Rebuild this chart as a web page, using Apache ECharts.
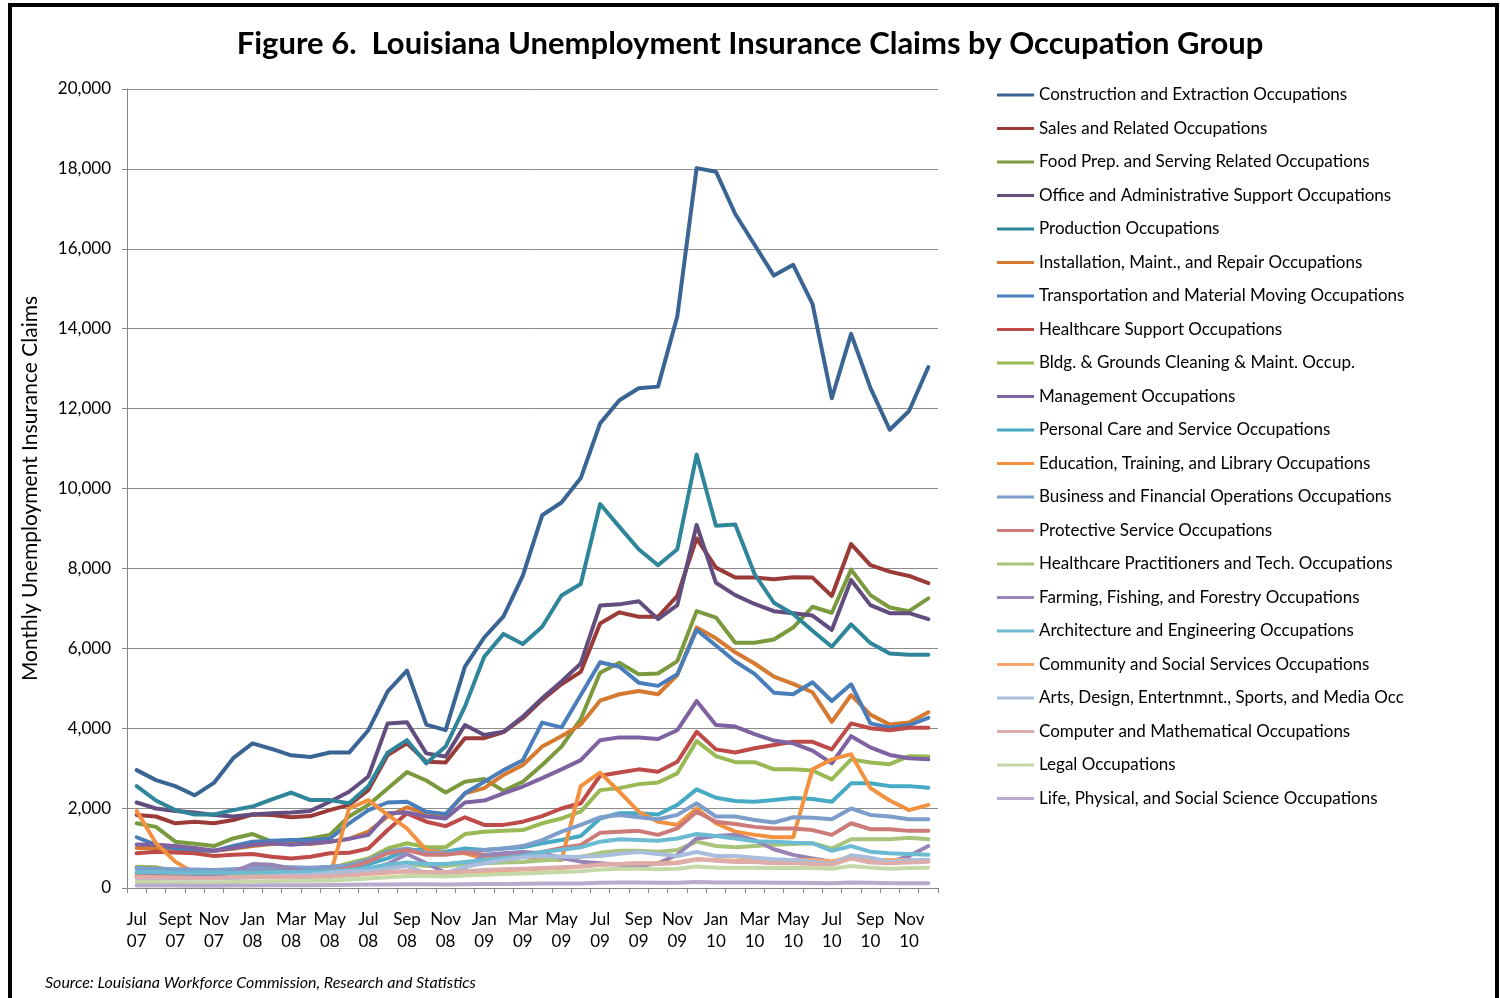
<!DOCTYPE html>
<html>
<head>
<meta charset="utf-8">
<script src="https://cdn.jsdelivr.net/npm/echarts@6/dist/echarts.min.js"></script>
<style>
html,body{margin:0;padding:0;background:#fff;}
#chart{width:1500px;height:998px;}
</style>
</head>
<body>
<div id="chart"></div>
<script>
var months = ["Jul\n07","Aug\n07","Sept\n07","Oct\n07","Nov\n07","Dec\n07",
"Jan\n08","Feb\n08","Mar\n08","Apr\n08","May\n08","Jun\n08","Jul\n08","Aug\n08","Sep\n08","Oct\n08","Nov\n08","Dec\n08",
"Jan\n09","Feb\n09","Mar\n09","Apr\n09","May\n09","Jun\n09","Jul\n09","Aug\n09","Sep\n09","Oct\n09","Nov\n09","Dec\n09",
"Jan\n10","Feb\n10","Mar\n10","Apr\n10","May\n10","Jun\n10","Jul\n10","Aug\n10","Sep\n10","Oct\n10","Nov\n10","Dec\n10"];

var construction = [2950,2700,2550,2320,2630,3250,3620,3480,3320,3280,3390,3390,3950,4920,5440,4090,3950,5540,6270,6800,7820,9330,9650,10260,11630,12210,12510,12550,14310,18020,17930,16870,16100,15330,15600,14620,12260,13870,12520,11470,11940,13040];
var sales = [1830,1790,1620,1660,1620,1700,1840,1830,1770,1800,1950,2080,2450,3330,3620,3160,3140,3750,3750,3900,4250,4710,5100,5410,6620,6900,6790,6790,7310,8750,8020,7770,7770,7730,7780,7770,7310,8610,8080,7920,7810,7630];
var foodPrep = [1620,1530,1160,1110,1050,1240,1350,1160,1180,1240,1330,1790,2080,2490,2900,2690,2390,2660,2730,2430,2660,3080,3540,4230,5390,5640,5350,5370,5680,6930,6770,6140,6140,6220,6520,7040,6890,7970,7330,7020,6930,7250];
var office = [2140,1990,1930,1890,1830,1790,1840,1870,1890,1930,2160,2410,2790,4120,4150,3370,3290,4080,3830,3910,4290,4750,5170,5620,7070,7100,7180,6730,7080,9090,7640,7330,7110,6930,6880,6820,6460,7710,7080,6880,6880,6730];
var production = [2550,2190,1950,1840,1840,1950,2040,2220,2390,2200,2200,2120,2550,3390,3700,3120,3540,4540,5790,6360,6110,6540,7320,7610,9610,9040,8480,8080,8480,10850,9070,9100,7860,7140,6860,6440,6040,6600,6130,5870,5840,5840];
var installation = [1000,1000,980,950,930,980,1050,1100,1120,1100,1160,1230,1410,1790,2020,1870,1830,2370,2500,2830,3080,3540,3800,4090,4690,4850,4930,4850,5330,6520,6250,5900,5620,5290,5110,4900,4160,4830,4340,4090,4140,4400];
var transportation = [1270,1080,990,950,930,1050,1160,1180,1200,1200,1230,1620,1950,2140,2160,1910,1850,2370,2660,2950,3200,4140,4020,4830,5650,5540,5140,5060,5350,6460,6070,5670,5360,4890,4850,5150,4680,5100,4120,4010,4080,4260];
var healthSupport = [870,910,890,870,800,830,850,780,740,780,870,880,990,1450,1870,1660,1550,1770,1580,1580,1660,1800,1990,2120,2810,2890,2970,2910,3160,3910,3470,3390,3500,3580,3660,3660,3470,4120,4000,3950,4010,4010];
var bldg = [530,520,420,300,330,450,520,500,480,480,490,620,740,990,1120,1020,1020,1350,1410,1430,1450,1620,1740,1910,2450,2500,2600,2640,2870,3680,3300,3150,3150,2970,2970,2940,2720,3220,3140,3100,3300,3290];
var management = [1090,1080,1050,1000,930,1000,1080,1120,1080,1120,1160,1230,1330,1870,1890,1790,1740,2140,2190,2370,2540,2750,2970,3200,3700,3770,3770,3730,3950,4680,4080,4040,3850,3690,3620,3440,3120,3800,3520,3330,3250,3220];
var personalCare = [480,470,450,430,420,430,450,440,430,420,450,500,600,740,950,950,910,990,950,990,1020,1120,1200,1300,1740,1870,1870,1840,2080,2470,2260,2180,2160,2200,2250,2230,2160,2620,2620,2550,2550,2510];
var education = [1930,1120,660,370,370,380,330,320,300,300,290,1990,2200,1830,1490,950,880,870,740,700,780,720,700,2550,2890,2410,1910,1660,1580,1990,1620,1410,1330,1270,1270,2970,3220,3350,2500,2190,1950,2080];
var business = [500,480,470,460,450,470,500,520,520,510,530,570,700,910,990,870,870,910,950,990,1050,1200,1410,1580,1770,1830,1770,1720,1830,2120,1790,1790,1700,1640,1770,1760,1720,1990,1830,1790,1720,1720];
var protective = [380,380,370,360,360,370,400,420,400,400,420,500,660,870,950,830,830,890,830,780,830,900,1000,1080,1380,1410,1430,1330,1490,1910,1660,1600,1530,1490,1490,1450,1330,1620,1470,1470,1430,1430];
var healthPract = [330,320,310,300,300,310,330,340,350,350,360,400,450,550,600,550,550,600,620,640,650,690,720,780,880,930,930,910,950,1160,1050,1020,1050,1080,1100,1120,990,1220,1220,1220,1260,1220];
var farming = [300,300,290,280,280,400,600,580,490,370,280,350,450,600,850,620,380,500,830,870,900,870,750,660,620,580,550,620,830,1240,1300,1330,1200,970,830,740,660,750,700,650,800,1050];
var architecture = [400,400,390,380,380,380,390,400,400,400,420,450,500,580,640,600,600,650,700,750,800,900,960,1020,1160,1220,1200,1180,1240,1350,1300,1240,1170,1160,1130,1120,930,1050,910,870,850,830];
var community = [280,270,260,250,250,260,280,290,290,290,300,320,350,380,420,380,380,400,420,440,460,480,500,540,580,600,620,620,640,720,700,680,720,700,700,700,660,780,700,700,700,700];
var arts = [250,250,240,240,240,250,270,300,320,330,380,420,420,490,550,370,370,530,620,700,770,800,780,780,800,860,900,850,800,900,800,800,760,720,700,660,600,820,760,650,700,700];
var computer = [260,260,250,250,250,260,270,280,280,280,300,320,360,400,420,400,400,420,450,470,480,500,520,540,580,600,620,600,620,720,680,650,650,620,620,600,580,740,640,620,640,660];
var legal = [150,150,140,140,140,150,160,170,180,180,190,210,240,270,300,300,290,310,330,350,360,380,400,420,460,480,480,470,480,540,510,510,510,500,500,500,480,550,510,480,500,510];
var lifeSci = [60,60,60,55,55,60,65,70,70,70,75,80,85,90,95,95,90,95,100,100,105,110,110,115,130,135,135,130,130,150,140,140,135,130,130,125,120,140,130,120,120,120];

var seriesNames = [
"Construction and Extraction Occupations",
"Sales and Related Occupations",
"Food Prep. and Serving Related Occupations",
"Office and Administrative Support Occupations",
"Production Occupations",
"Installation, Maint., and Repair Occupations",
"Transportation and Material Moving Occupations",
"Healthcare Support Occupations",
"Bldg. & Grounds Cleaning & Maint. Occup.",
"Management Occupations",
"Personal Care and Service Occupations",
"Education, Training, and Library Occupations",
"Business and Financial Operations Occupations",
"Protective Service Occupations",
"Healthcare Practitioners and Tech. Occupations",
"Farming, Fishing, and Forestry Occupations",
"Architecture and Engineering Occupations",
"Community and Social Services Occupations",
"Arts, Design, Entertnmnt., Sports, and Media Occ",
"Computer and Mathematical Occupations",
"Legal Occupations",
"Life, Physical, and Social Science Occupations"];

var seriesData = [construction, sales, foodPrep, office, production, installation, transportation,
  healthSupport, bldg, management, personalCare, education, business, protective, healthPract,
  farming, architecture, community, arts, computer, legal, lifeSci];

var colors = ["#3A6493","#9B3B38","#7A9A3D","#634D7E","#2F8599","#D57A30",
  "#4A7EBB","#BE4B48","#98B954","#7E62A1","#46AAC5","#F29241",
  "#7D9DCB","#CC7B79","#A9C57C","#9985B5","#6CBBD2","#F8A66B",
  "#A9BEDC","#DDADAC","#C5D8A7","#B8ABCC"];

var FONT = "Lato";

var series = seriesNames.map(function(n, i){
  return {
    name: n, type: 'line', data: seriesData[i], symbol: 'none', showSymbol: false,
    lineStyle: {width: 4, color: colors[i], join: 'round', cap: 'round'},
    itemStyle: {color: colors[i]},
    emphasis: {disabled: true}
  };
});

var chart = echarts.init(document.getElementById('chart'), null, {renderer: 'canvas'});
chart.setOption({
  animation: false,
  color: colors,
  title: {
    text: "Figure 6.  Louisiana Unemployment Insurance Claims by Occupation Group",
    left: 'center', top: 23,
    textStyle: {fontFamily: FONT, fontWeight: 'bold', fontSize: 31, color: '#000'}
  },
  grid: {left: 127, right: 562, top: 89, bottom: 110, containLabel: false},
  legend: {
    orient: 'vertical', left: 992, top: 80,
    icon: 'rect', itemWidth: 37, itemHeight: 3, itemGap: 13.5,
    textStyle: {fontFamily: FONT, fontSize: 17, color: '#000', lineHeight: 20},
    data: seriesNames
  },
  xAxis: {
    type: 'category', data: months, boundaryGap: true,
    axisLine: {lineStyle: {color: '#868686', width: 1}},
    axisTick: {show: true, interval: 0, length: 5, lineStyle: {color: '#868686'}},
    axisLabel: {interval: 1, fontFamily: FONT, fontSize: 17, color: '#000', lineHeight: 22, margin: 21},
    splitLine: {show: false}
  },
  yAxis: {
    type: 'value', min: 0, max: 20000, interval: 2000,
    name: 'Monthly Unemployment Insurance Claims', nameLocation: 'middle', nameGap: 86,
    nameTextStyle: {fontFamily: FONT, fontSize: 21, color: '#000'},
    axisLine: {show: true, lineStyle: {color: '#868686', width: 1}},
    axisTick: {show: true, length: 5, lineStyle: {color: '#868686'}},
    axisLabel: {fontFamily: FONT, fontSize: 17, color: '#000', margin: 16,
      formatter: function(v){ return v.toLocaleString('en-US'); }},
    splitLine: {show: true, lineStyle: {color: '#8C8C8C', width: 1}}
  },
  graphic: [
    {type: 'rect', left: 8, top: 3, shape: {width: 1491, height: 4}, style: {fill: '#000'}},
    {type: 'rect', left: 8, top: 3, shape: {width: 4, height: 995}, style: {fill: '#000'}},
    {type: 'rect', left: 1495, top: 3, shape: {width: 4, height: 995}, style: {fill: '#000'}},
    {type: 'text', left: 45, top: 975, style: {text: 'Source: Louisiana Workforce Commission, Research and Statistics',
      font: 'italic 16px ' + FONT, fill: '#000'}}
  ],
  series: series
});
</script>
</body>
</html>
